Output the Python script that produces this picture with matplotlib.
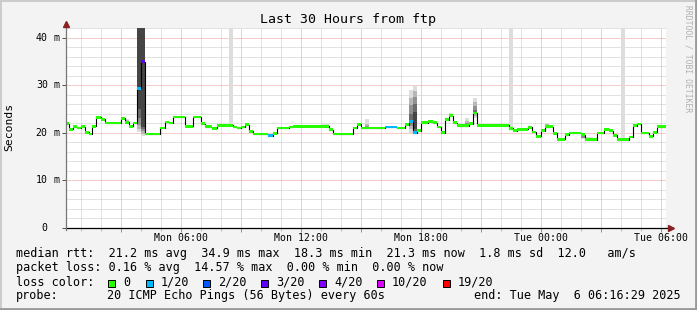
import numpy as np
import matplotlib
matplotlib.use('Agg')
import matplotlib.pyplot as plt
from matplotlib.patches import Rectangle
from matplotlib.lines import Line2D
from matplotlib.transforms import blended_transform_factory

# time axis in hours since Mon 00:00, values in ms
t_start = 16 / 60 + 29 / 3600
t_end = 30 + t_start

# median rtt, one step per row: start hour, value, loss (pings lost of 20)
seg_start = [0.2747, 0.435, 0.635, 0.835, 1.035, 1.235, 1.435, 1.585, 1.785, 2.02,
             2.235, 3.0, 3.235, 3.435, 3.635, 3.835, 4.035, 4.235, 4.985, 5.235,
             5.435, 5.635, 6.2, 6.635, 7.035, 7.235, 7.585, 7.835, 8.635, 8.835,
             9.035, 9.235, 9.435, 9.635, 10.385, 10.61, 10.82, 11.42, 11.62, 13.42,
             13.62, 14.62, 14.82, 15.02, 16.235, 16.835, 17.235, 17.42, 17.61, 17.835,
             18.035, 18.385, 18.635, 18.835, 19.035, 19.235, 19.435, 19.635, 19.835, 20.435,
             20.635, 20.835, 22.42, 22.635, 22.835, 23.385, 23.585, 23.785, 24.0, 24.235,
             24.635, 24.82, 25.235, 25.435, 26.035, 26.235, 26.82, 27.185, 27.4, 27.6,
             27.82, 28.4, 28.62, 28.82, 29.02, 29.4, 29.6, 29.82]
seg_val = [21.9, 20.7, 21.3, 21.0, 21.3, 20.1, 19.75, 21.35, 23.25, 22.85,
           22.05, 23.05, 22.2, 21.35, 22.05, 29.3, 34.9, 19.75, 21.0, 22.25,
           22.05, 23.3, 21.35, 23.3, 21.9, 21.3, 20.95, 21.6, 21.2, 21.0,
           21.2, 21.7, 20.3, 19.75, 19.35, 19.85, 21.0, 21.2, 21.35, 20.6,
           19.75, 21.0, 21.8, 21.0, 21.2, 21.0, 21.7, 22.35, 20.05, 20.4,
           22.15, 22.35, 22.15, 21.2, 20.05, 22.75, 23.6, 22.15, 21.5, 21.9,
           24.15, 21.55, 20.9, 20.4, 20.75, 21.15, 20.15, 19.25, 20.4, 21.3,
           19.85, 18.65, 19.6, 19.95, 19.6, 18.55, 19.95, 20.75, 20.4, 19.5,
           18.55, 19.1, 21.5, 21.85, 19.95, 19.3, 20.1, 21.3]
seg_loss = [0, 0, 0, 0, 0, 0, 0, 0, 0, 0,
            0, 0, 0, 0, 0, 1, 3, 0, 0, 0,
            0, 0, 0, 0, 0, 0, 0, 0, 0, 0,
            0, 0, 0, 0, 1, 0, 0, 0, 0, 0,
            0, 0, 0, 0, 1, 0, 0, 1, 1, 0,
            0, 0, 0, 0, 0, 0, 0, 0, 0, 0,
            0, 0, 0, 0, 0, 0, 0, 0, 0, 0,
            0, 0, 0, 0, 0, 0, 0, 0, 0, 0,
            0, 0, 0, 0, 0, 0, 0, 0]

# smoke: intervals with visible ping spread (10 sorted pings each)
smoke_t0 = [3.235, 3.835, 4.035, 8.435, 13.035, 15.235, 17.235, 17.42, 17.61,
            19.435, 20.235, 20.635, 22.435, 24.235, 26.035, 26.235, 28.0]
smoke_t1 = [3.435, 4.035, 4.235, 8.635, 13.435, 15.435, 17.42, 17.61, 17.835,
            19.635, 20.435, 20.835, 22.635, 24.435, 26.235, 26.635, 28.235]
smoke_pings = [
    [22.0, 22.1, 22.2, 22.2, 22.2, 22.3, 22.3, 22.4, 22.6, 22.9],
    [20.2, 20.8, 21.6, 23.0, 25.0, 48, 60, 80, 110, 150],
    [19.3, 19.8, 20.3, 20.7, 21.2, 50, 65, 85, 115, 160],
    [21.4, 21.5, 21.5, 21.6, 21.6, 21.6, 21.7, 21.7, 21.8, 200],
    [21.3, 21.3, 21.3, 21.4, 21.4, 21.4, 21.4, 21.5, 21.6, 21.8],
    [20.9, 21.0, 21.0, 21.1, 21.1, 21.1, 21.2, 21.4, 21.9, 22.8],
    [21.5, 21.6, 21.6, 21.7, 21.7, 21.7, 21.8, 21.9, 22.0, 22.1],
    [20.0, 20.7, 21.4, 22.0, 22.3, 22.5, 24.0, 25.8, 27.4, 28.9],
    [19.7, 19.9, 20.1, 20.4, 20.8, 24.4, 26.0, 27.5, 28.8, 30.0],
    [23.4, 23.5, 23.5, 23.6, 23.6, 23.6, 23.7, 23.8, 23.9, 24.2],
    [21.3, 21.4, 21.5, 21.5, 21.5, 21.6, 21.7, 22.0, 22.5, 23.1],
    [23.0, 23.5, 23.9, 24.0, 24.1, 24.3, 24.8, 25.6, 26.4, 27.2],
    [20.6, 20.7, 20.8, 20.8, 20.9, 20.9, 21.0, 21.1, 21.2, 200],
    [21.1, 21.2, 21.3, 21.3, 21.3, 21.4, 21.5, 21.6, 21.8, 22.1],
    [18.6, 18.8, 19.0, 19.3, 19.5, 19.6, 19.6, 19.7, 19.7, 19.8],
    [18.2, 18.3, 18.4, 18.5, 18.5, 18.6, 18.6, 18.7, 18.8, 19.1],
    [18.4, 18.5, 18.5, 18.6, 18.6, 18.6, 18.7, 18.7, 18.8, 200],
]

loss_labels = ['0', '1/20', '2/20', '3/20', '4/20', '10/20', '19/20']
loss_colors = ['#26ff00', '#00b8ff', '#0059ff', '#5e00ff', '#7e00ff', '#dd00ff', '#ff0000']
loss_index = {0: 0, 1: 1, 2: 2, 3: 3, 4: 4, 10: 5, 19: 6}

xtick_hours = [6, 12, 18, 24, 30]
xtick_labels = ['Mon 06:00', 'Mon 12:00', 'Mon 18:00', 'Tue 00:00', 'Tue 06:00']
ytick_vals = [0, 10, 20, 30, 40]

legend_lines = [
    'median rtt:  21.2 ms avg  34.9 ms max  18.3 ms min  21.3 ms now  1.8 ms sd  12.0   am/s',
    'packet loss: 0.16 % avg  14.57 % max  0.00 % min  0.00 % now',
]
probe_text = '20 ICMP Echo Pings (56 Bytes) every 60s'
end_text = 'end: Tue May  6 06:16:29 2025'

W, H = 697, 310
plt.rcParams['font.family'] = 'DejaVu Sans Mono'
fig = plt.figure(figsize=(W / 100, H / 100), dpi=100, facecolor='#f3f3f3')
ax = fig.add_axes([66 / W, 82 / H, 600 / W, 200 / H], facecolor='white')
ax.set_xlim(t_start, t_end)
ax.set_ylim(0, 42)

# grid
dots = (0, (1, 1))
for h in range(1, 31):
    major = h % 3 == 0
    ax.axvline(h, color='#ec9898' if major else '#c6c6c6', lw=0.72, ls=dots, zorder=0)
for v in range(2, 43, 2):
    major = v % 10 == 0
    ax.axhline(v, color='#ec9898' if major else '#c6c6c6', lw=0.72, ls=dots, zorder=0)

# smoke
for t0, t1, p in zip(smoke_t0, smoke_t1, smoke_pings):
    for i in range(5):
        g = int(221 - i * 38) / 255
        ax.bar(t0, p[9 - i] - p[i], width=t1 - t0, bottom=p[i], align='edge',
               color=(g, g, g), lw=0, zorder=2)

# median line coloured by loss
ts = seg_start + [t_end]
vs = seg_val + [seg_val[-1]]
ax.step(ts, vs, where='post', color='black', lw=0.8, zorder=3)
ax.bar(seg_start, 0.6, width=np.diff(ts), bottom=np.array(seg_val) - 0.3, align='edge',
       color=[loss_colors[loss_index[l]] for l in seg_loss], lw=0, zorder=4)

# axes and ticks
for s in ax.spines.values():
    s.set_visible(False)
ax.set_xticks(np.arange(3, 31, 3))
ax.set_xticks(np.arange(1, 31), minor=True)
ax.set_yticks(ytick_vals)
ax.tick_params(axis='x', which='major', length=3, width=0.72, color='#e07070', labelbottom=False)
ax.tick_params(axis='x', which='minor', length=2, width=0.72, color='#bbbbbb')
ax.tick_params(axis='y', which='major', length=3, width=0.72, color='#555555', labelleft=False)
ax.plot([0, 1.0075], [0, 0], transform=ax.transAxes, color='black', lw=0.9, clip_on=False, zorder=6)
ax.plot([0, 0], [-0.01, 1.015], transform=ax.transAxes, color='#777777', lw=0.9, clip_on=False, zorder=6)
ax.plot([1.0085], [0], marker='>', ms=5, color='#8b2020', transform=ax.transAxes, clip_on=False, zorder=7)
ax.plot([0], [1.02], marker='^', ms=5, color='#8b2020', transform=ax.transAxes, clip_on=False, zorder=7)

bx = blended_transform_factory(ax.transData, fig.transFigure)
for h, lab in zip(xtick_hours, xtick_labels):
    ax.text(h, 1 - 238 / H, lab, transform=bx, ha='center', va='center', size=7.1)
by = blended_transform_factory(fig.transFigure, ax.transData)
for v in ytick_vals:
    ax.text(47.8 / W, v, str(v), transform=by, ha='right', va='center', size=7.1)
    if v:
        ax.text(53.5 / W, v, 'm', transform=by, ha='left', va='center', size=7.1)

fig.text(0.5, 1 - 19 / H, 'Last 30 Hours from ftp', ha='center', va='center', size=9.5)
fig.text(9.5 / W, 1 - 127 / H, 'Seconds', rotation=90, ha='center', va='center', size=8.2)
fig.text(688 / W, 1 - 5 / H, 'RRDTOOL / TOBI OETIKER', rotation=270, ha='center', va='top',
         size=5.8, color='#b0b0b0')

# legend
fs = 8.5
fig.text(16 / W, 1 - 254 / H, legend_lines[0], va='center', size=fs)
fig.text(16 / W, 1 - 268 / H, legend_lines[1], va='center', size=fs)
fig.text(16 / W, 1 - 282 / H, 'loss color:', va='center', size=fs)
box_x = [108, 145.7, 203, 261, 319, 377, 442.7]
for x, lab, c in zip(box_x, loss_labels, loss_colors):
    fig.patches.append(Rectangle((x / W, 1 - 286.5 / H), 7 / W, 7 / H, transform=fig.transFigure,
                                 facecolor=c, edgecolor='black', lw=0.7))
    fig.text((x + 15) / W, 1 - 282 / H, lab, va='center', size=fs)
fig.text(16 / W, 1 - 296 / H, 'probe:', va='center', size=fs)
fig.text(107.3 / W, 1 - 296 / H, probe_text, va='center', size=fs)
fig.text(681 / W, 1 - 296 / H, end_text, ha='right', va='center', size=fs)

# image frame
fig.add_artist(Line2D([0, 1], [1 - 0.7 / H] * 2, transform=fig.transFigure, color='#cbcbcb', lw=1.4))
fig.add_artist(Line2D([0.7 / W] * 2, [0, 1], transform=fig.transFigure, color='#cbcbcb', lw=1.4))
fig.add_artist(Line2D([0, 1], [1.2 / H] * 2, transform=fig.transFigure, color='#999999', lw=2))
fig.add_artist(Line2D([1 - 1.2 / W] * 2, [0, 1], transform=fig.transFigure, color='#999999', lw=2))

fig.savefig('out.png', dpi=100, facecolor=fig.get_facecolor())
